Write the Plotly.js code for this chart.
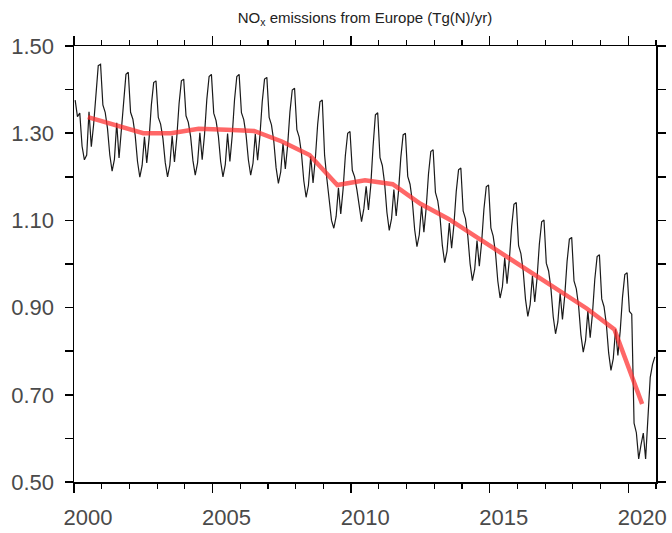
<!DOCTYPE html>
<html>
<head>
<meta charset="utf-8">
<script src="https://cdn.plot.ly/plotly-3.0.1.min.js"></script>
<style>html,body{margin:0;padding:0;background:#fff;}#chart{width:672px;height:533px;}</style>
</head>
<body>
<div id="chart"></div>
<script>
// ---- data ----
var years = [2000,2001,2002,2003,2004,2005,2006,2007,2008,2009,2010,2011,2012,2013,2014,2015,2016,2017,2018,2019,2020];
// monthly NOx emissions (Tg(N)/yr), Jan..Dec for each year
var monthly = [
  1.376,1.338,1.346,1.270,1.239,1.250,1.349,1.269,1.320,1.400,1.455,1.458, // 2000
  1.365,1.348,1.311,1.250,1.213,1.240,1.324,1.243,1.304,1.383,1.435,1.440, // 2001
  1.348,1.332,1.295,1.235,1.199,1.226,1.292,1.232,1.287,1.365,1.416,1.420, // 2002
  1.336,1.321,1.288,1.233,1.200,1.227,1.294,1.234,1.290,1.368,1.420,1.424, // 2003
  1.340,1.325,1.292,1.237,1.204,1.232,1.301,1.239,1.296,1.377,1.430,1.435, // 2004
  1.346,1.329,1.294,1.235,1.200,1.228,1.299,1.235,1.294,1.376,1.430,1.435, // 2005
  1.347,1.331,1.296,1.239,1.204,1.231,1.298,1.238,1.294,1.372,1.424,1.428, // 2006
  1.336,1.319,1.282,1.221,1.185,1.211,1.277,1.218,1.272,1.349,1.399,1.403, // 2007
  1.308,1.291,1.253,1.191,1.153,1.180,1.247,1.186,1.242,1.320,1.372,1.376, // 2008
  1.250,1.195,1.150,1.100,1.082,1.109,1.175,1.115,1.171,1.249,1.300,1.304, // 2009
  1.215,1.200,1.170,1.128,1.097,1.127,1.178,1.124,1.180,1.270,1.342,1.347, // 2010
  1.244,1.226,1.185,1.118,1.077,1.104,1.171,1.110,1.166,1.244,1.296,1.300, // 2011
  1.201,1.183,1.144,1.079,1.040,1.067,1.133,1.073,1.129,1.207,1.258,1.262, // 2012
  1.164,1.145,1.107,1.042,1.003,1.029,1.094,1.036,1.090,1.166,1.216,1.220, // 2013
  1.122,1.104,1.065,1.001,0.962,0.988,1.054,0.995,1.050,1.126,1.177,1.181, // 2014
  1.083,1.064,1.026,0.961,0.922,0.948,1.014,0.955,1.010,1.086,1.137,1.141, // 2015
  1.042,1.024,0.984,0.919,0.880,0.907,0.973,0.913,0.968,1.046,1.097,1.101, // 2016
  1.002,0.984,0.944,0.879,0.840,0.867,0.933,0.873,0.928,1.006,1.057,1.061, // 2017
  0.961,0.943,0.903,0.837,0.798,0.825,0.892,0.831,0.887,0.965,1.017,1.021, // 2018
  0.920,0.902,0.862,0.796,0.756,0.783,0.850,0.790,0.846,0.924,0.976,0.980, // 2019
  0.891,0.885,0.635,0.613,0.553,0.585,0.612,0.553,0.645,0.740,0.770,0.787  // 2020
];
// annual means
var annual = [1.337,1.318,1.300,1.300,1.310,1.308,1.305,1.281,1.250,1.181,1.192,1.183,1.138,1.104,1.063,1.021,0.980,0.939,0.898,0.850,0.679];
var yTickVals = [0.5,0.7,0.9,1.1,1.3,1.5];
var yTickText = ['0.50','0.70','0.90','1.10','1.30','1.50'];
var xTickVals = [2000,2005,2010,2015,2020];
var xTickText = ['2000','2005','2010','2015','2020'];

// ---- build traces ----
var mx = [], my = [];
for (var i = 0; i < years.length; i++) {
  for (var m = 0; m < 12; m++) {
    mx.push(years[i] + (m + 0.5) / 12);
    my.push(monthly[i * 12 + m]);
  }
}
var ax = years.map(function (y) { return y + 0.5; });

var traces = [
  { x: mx, y: my, type: 'scatter', mode: 'lines',
    line: { color: '#1a1a1a', width: 1.2 }, hoverinfo: 'skip' },
  { x: ax, y: annual, type: 'scatter', mode: 'lines',
    line: { color: 'rgba(255,45,45,0.72)', width: 4.5 }, hoverinfo: 'skip' }
];

var tickFont = { family: 'Liberation Sans, Arial, sans-serif', size: 22, color: '#4a4a4a' };

var layout = {
  width: 672, height: 533,
  margin: { l: 74, r: 16, t: 46, b: 51 },
  paper_bgcolor: '#fff', plot_bgcolor: '#fff',
  showlegend: false,
  title: {
    text: 'NO<sub>x</sub> emissions from Europe (Tg(N)/yr)',
    font: { family: 'Liberation Sans, Arial, sans-serif', size: 15, color: '#222' },
    x: 0.5, xref: 'paper', xanchor: 'center',
    y: 1 - 18 / 533, yref: 'container', yanchor: 'middle'
  },
  xaxis: {
    range: [2000, 2021], showgrid: false, zeroline: false,
    showline: true, linecolor: '#000', linewidth: 1.5, mirror: 'ticks',
    tickmode: 'array', tickvals: xTickVals, ticktext: xTickText,
    ticks: 'outside', ticklen: 9, tickwidth: 1.5, tickcolor: '#000',
    minor: { dtick: 1, tick0: 2000, ticks: 'outside', ticklen: 5, tickwidth: 1.2, tickcolor: '#000', showgrid: false },
    tickfont: tickFont, ticklabelshift: 14, ticklabelstandoff: 6
  },
  yaxis: {
    range: [0.5, 1.5], showgrid: false, zeroline: false,
    showline: true, linecolor: '#000', linewidth: 1.5, mirror: 'ticks',
    tickmode: 'array', tickvals: yTickVals, ticktext: yTickText,
    ticks: 'outside', ticklen: 8, tickwidth: 1.5, tickcolor: '#000',
    minor: { dtick: 0.1, tick0: 0.5, ticks: 'outside', ticklen: 8, tickwidth: 1.5, tickcolor: '#000', showgrid: false },
    tickfont: tickFont, ticklabelstandoff: 6
  }
};

Plotly.newPlot('chart', traces, layout, { displayModeBar: false, staticPlot: true });
</script>
</body>
</html>
